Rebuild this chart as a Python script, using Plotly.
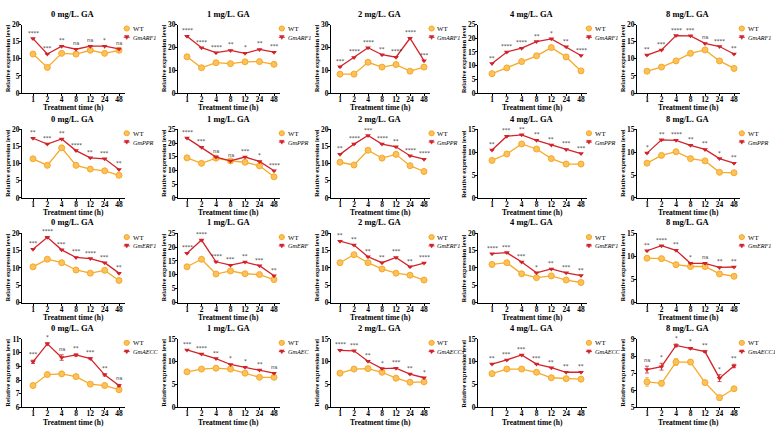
import plotly.graph_objects as go

# ---------------- data ----------------
times = ["1", "2", "4", "8", "12", "24", "48"]
doses = ["0 mg/L. GA", "1 mg/L. GA", "2 mg/L. GA", "4 mg/L. GA", "8 mg/L. GA"]

# GmARF1 row
arf1_wt = [[11.4, 7.5, 11.6, 11.4, 12.5, 11.6, 12.5],
           [15.9, 11.1, 13.3, 12.9, 13.7, 13.8, 12.6],
           [8.3, 8.3, 13.5, 11.4, 12.5, 9.6, 11.4],
           [7.1, 9.2, 11.5, 13.6, 16.6, 13.2, 8.1],
           [6.4, 7.6, 9.4, 11.6, 12.6, 9.4, 7.2]]
arf1_oe = [[15.9, 11.4, 13.7, 12.8, 13.7, 13.7, 12.9],
           [24.9, 19.9, 17.7, 18.7, 17.4, 19.1, 17.9],
           [11.5, 15.6, 19.9, 16.8, 15.7, 24.0, 14.2],
           [10.8, 15.0, 16.4, 18.8, 19.8, 16.9, 13.7],
           [11.1, 12.6, 16.8, 16.7, 14.5, 13.6, 11.4]]
arf1_sig = [["****", "***", "**", "ns", "ns", "*", "ns"],
            ["****", "****", "****", "**", "*", "**", "***"],
            ["***", "****", "****", "**", "****", "****", "***"],
            ["**", "****", "****", "**", "*", "**", "****"],
            ["**", "***", "****", "***", "ns", "****", "**"]]

# GmPPR row
ppr_wt = [[11.4, 9.5, 14.6, 9.5, 8.4, 7.9, 6.6],
          [14.6, 12.6, 14.5, 13.5, 13.0, 11.7, 7.7],
          [10.4, 9.6, 13.9, 11.6, 12.7, 9.4, 7.7],
          [8.2, 9.6, 11.8, 10.7, 8.6, 7.4, 7.4],
          [7.6, 9.3, 10.1, 8.6, 8.1, 5.6, 5.5]]
ppr_oe = [[17.4, 15.7, 17.2, 13.8, 11.7, 11.4, 8.3],
          [21.8, 18.5, 14.9, 13.5, 14.9, 13.3, 9.9],
          [12.7, 15.7, 18.2, 15.7, 14.9, 12.3, 11.3],
          [10.5, 13.5, 13.8, 12.6, 11.6, 10.6, 9.7],
          [9.8, 12.7, 12.6, 11.5, 10.6, 8.6, 7.6]]
ppr_sig = [["**", "***", "**", "****", "**", "***", "**"],
           ["****", "***", "ns", "ns", "***", "*", "****"],
           ["**", "****", "***", "****", "**", "****", "****"],
           ["**", "***", "**", "**", "**", "***", "***"],
           ["*", "**", "****", "**", "**", "*", "**"]]

# GmERF1 row
erf1_wt = [[10.3, 12.5, 11.5, 9.4, 8.5, 9.3, 6.4],
           [12.9, 15.6, 10.3, 11.4, 10.4, 10.1, 8.3],
           [11.5, 13.8, 11.5, 9.7, 8.5, 7.9, 6.5],
           [11.0, 11.5, 8.3, 7.2, 7.7, 6.5, 5.8],
           [9.6, 9.5, 8.2, 7.8, 7.8, 6.2, 5.7]]
erf1_oe = [[15.4, 18.8, 15.2, 13.0, 12.7, 11.5, 8.5],
           [17.8, 22.5, 14.7, 13.5, 14.6, 13.3, 9.7],
           [17.7, 16.6, 13.2, 11.5, 13.0, 10.3, 11.4],
           [14.1, 14.4, 11.7, 8.6, 9.7, 8.6, 7.8],
           [11.2, 12.3, 11.3, 8.5, 8.5, 7.6, 7.7]]
erf1_sig = [["***", "****", "***", "***", "****", "***", "**"],
            ["****", "****", "****", "***", "**", "***", "**"],
            ["**", "**", "**", "**", "***", "**", "****"],
            ["****", "***", "***", "*", "**", "***", "**"],
            ["**", "****", "**", "*", "ns", "**", "**"]]

# GmAECC1 row
aecc_wt = [[7.6, 8.4, 8.45, 8.25, 7.7, 7.6, 7.3],
           [7.8, 8.4, 8.6, 8.4, 7.5, 6.6, 6.6],
           [7.5, 8.4, 8.5, 7.7, 6.4, 5.5, 5.6],
           [7.4, 8.4, 8.4, 7.7, 6.5, 6.3, 6.2],
           [6.49, 6.41, 7.65, 7.65, 6.45, 5.57, 6.09]]
aecc_oe = [[9.33, 10.64, 9.64, 9.83, 9.57, 8.38, 7.6],
           [12.6, 11.7, 10.7, 9.4, 8.8, 8.2, 7.5],
           [12.5, 12.4, 10.1, 8.5, 8.6, 7.3, 6.5],
           [9.5, 10.4, 11.5, 9.5, 8.7, 7.7, 7.7],
           [7.21, 7.38, 8.62, 8.45, 8.26, 6.71, 7.42]]
aecc_wt_err = [[0.05, 0.12, 0.05, 0.05, 0.06, 0.05, 0.15],
               [0, 0, 0, 0, 0, 0, 0],
               [0, 0, 0, 0, 0, 0, 0],
               [0, 0, 0, 0, 0, 0, 0],
               [0.25, 0.15, 0.2, 0.1, 0.12, 0.15, 0.08]]
aecc_oe_err = [[0.12, 0.08, 0.2, 0.08, 0.05, 0.08, 0.08],
               [0, 0, 0, 0, 0, 0, 0],
               [0, 0, 0, 0, 0, 0, 0],
               [0, 0, 0, 0, 0, 0, 0],
               [0.2, 0.2, 0.08, 0.05, 0.05, 0.2, 0.1]]
aecc_sig = [["***", "*", "ns", "**", "***", "**", "ns"],
            ["***", "****", "**", "*", "*", "**", "ns"],
            ["****", "***", "**", "*", "***", "**", "*"],
            ["**", "***", "***", "***", "**", "**", "**"],
            ["ns", "*", "*", "*", "**", "*", "**"]]

gene_labels = [["GmARF1"] * 5,
               ["GmPPR"] * 5,
               ["GmERF1", "GmERF", "GmERF1", "GmERF1", "GmERF1"],
               ["GmAECC", "GmAEC", "GmAECC1", "GmAECC", "GmAECC1"]]

y_min = [[0, 0, 0, 0, 0], [0, 0, 0, 0, 0], [0, 0, 0, 0, 0], [6, 0, 0, 0, 5]]
y_max = [[20, 30, 30, 25, 20], [20, 25, 20, 15, 15], [20, 25, 20, 20, 15], [11, 15, 15, 15, 9]]
y_dtick = [[5, 10, 10, 5, 5], [5, 5, 5, 5, 5], [5, 5, 5, 5, 5], [1, 5, 5, 5, 1]]

# ---------------- layout geometry ----------------
W, H = 775, 434
col_left = [22, 178, 331, 478, 637]
col_x1 = [33, 187, 340, 492, 647]
col_x48 = [119, 274, 424, 581, 734]
row_top = [21, 128, 234, 342]
row_bot = [91, 198, 305, 412]

WT_COLOR = "#F7A928"
WT_FILL = "#FBC15A"
OE_COLOR = "#D2232A"
FONT = "Liberation Serif"


def px(x):
    return x / W


def py(y):
    return 1 - y / H


all_wt = [arf1_wt, ppr_wt, erf1_wt, aecc_wt]
all_oe = [arf1_oe, ppr_oe, erf1_oe, aecc_oe]
all_sig = [arf1_sig, ppr_sig, erf1_sig, aecc_sig]
zero_err = [[0] * 7 for _ in range(5)]
all_wt_err = [zero_err, zero_err, zero_err, aecc_wt_err]
all_oe_err = [zero_err, zero_err, zero_err, aecc_oe_err]

fig = go.Figure()
layout = dict(
    width=W, height=H,
    margin=dict(l=0, r=0, t=0, b=0),
    paper_bgcolor="white", plot_bgcolor="white",
    showlegend=False,
    font=dict(family=FONT, color="black"),
)
annotations = []
shapes = []

for r in range(4):
    for c in range(5):
        k = r * 5 + c + 1
        xs = "x" if k == 1 else f"x{k}"
        ys = "y" if k == 1 else f"y{k}"
        xkey = "xaxis" if k == 1 else f"xaxis{k}"
        ykey = "yaxis" if k == 1 else f"yaxis{k}"
        s = (col_x48[c] - col_x1[c]) / 6.0
        lo = -(col_x1[c] - col_left[c]) / s
        hi = 6.4
        right_px = col_x48[c] + 0.4 * s
        xd = [px(col_left[c]), px(right_px)]
        yd = [py(row_bot[r]), py(row_top[r])]

        layout[xkey] = dict(
            domain=xd, anchor=ys, type="category", range=[lo, hi],
            showline=True, linecolor="black", linewidth=1,
            ticks="outside", ticklen=2, tickwidth=1, tickcolor="black",
            ticklabelstandoff=-3,
            showgrid=False, zeroline=False,
            tickfont=dict(family=FONT, size=7.5, weight="bold", color="black"),
        )
        layout[ykey] = dict(
            domain=yd, anchor=xs, range=[y_min[r][c], y_max[r][c]],
            tick0=y_min[r][c], dtick=y_dtick[r][c],
            showline=True, linecolor="black", linewidth=1,
            ticks="outside", ticklen=2, tickwidth=1, tickcolor="black",
            ticklabelstandoff=-2,
            showgrid=False, zeroline=False,
            tickfont=dict(family=FONT, size=7.5, weight="bold", color="black"),
        )

        wt = all_wt[r][c]
        oe = all_oe[r][c]
        wte = all_wt_err[r][c]
        oee = all_oe_err[r][c]
        fig.add_trace(go.Scatter(
            x=times, y=wt, xaxis=xs, yaxis=ys, mode="lines+markers",
            line=dict(color=WT_COLOR, width=1.3),
            marker=dict(symbol="circle", size=6, color=WT_FILL,
                        line=dict(color=WT_COLOR, width=1)),
            error_y=dict(type="data", array=wte, visible=True,
                         color=WT_COLOR, thickness=0.8, width=2),
        ))
        fig.add_trace(go.Scatter(
            x=times, y=oe, xaxis=xs, yaxis=ys, mode="lines+markers",
            line=dict(color=OE_COLOR, width=1.3),
            marker=dict(symbol="triangle-down", size=5, color=OE_COLOR),
            error_y=dict(type="data", array=oee, visible=True,
                         color=OE_COLOR, thickness=0.8, width=2),
        ))

        # significance labels (x given as category index)
        for i in range(len(times)):
            top = max(oe[i] + oee[i], wt[i] + wte[i])
            annotations.append(dict(
                x=i, y=top, xref=xs, yref=ys, text=all_sig[r][c][i],
                showarrow=False, yanchor="bottom", yshift=1,
                font=dict(family="DejaVu Sans", size=5.5, color="#333333"),
            ))

        # panel title
        annotations.append(dict(
            x=(xd[0] + xd[1]) / 2, y=py(row_top[r] - 11),
            xref="paper", yref="paper", text=doses[c], showarrow=False,
            xanchor="center", yanchor="middle",
            font=dict(family=FONT, size=8.5, weight="bold", color="black"),
        ))
        # axis titles
        annotations.append(dict(
            x=(xd[0] + xd[1]) / 2, y=py(row_bot[r] + 15),
            xref="paper", yref="paper", text="Treatment time (h)", showarrow=False,
            xanchor="center", yanchor="middle",
            font=dict(family=FONT, size=7.5, weight="bold", color="black"),
        ))
        annotations.append(dict(
            x=px(col_left[c] - 14.5), y=(yd[0] + yd[1]) / 2,
            xref="paper", yref="paper", text="Relative expression level",
            showarrow=False, textangle=-90,
            xanchor="center", yanchor="middle",
            font=dict(family=FONT, size=6.5, weight="bold", color="black"),
        ))

        # legend entries (marker shapes + text)
        mx = right_px + 2.0
        wy = row_top[r] + 4
        oy = row_top[r] + 13
        shapes.append(dict(type="line", xref="paper", yref="paper",
                           x0=px(mx - 3.0), x1=px(mx + 3.0), y0=py(wy), y1=py(wy),
                           line=dict(color=WT_COLOR, width=1)))
        shapes.append(dict(type="circle", xref="paper", yref="paper",
                           x0=px(mx - 2.6), x1=px(mx + 2.6), y0=py(wy + 2.6), y1=py(wy - 2.6),
                           fillcolor=WT_FILL, line=dict(color=WT_COLOR, width=1)))
        shapes.append(dict(type="line", xref="paper", yref="paper",
                           x0=px(mx - 3.0), x1=px(mx + 3.0), y0=py(oy), y1=py(oy),
                           line=dict(color=OE_COLOR, width=1)))
        tri = (f"M {px(mx - 2.3)},{py(oy - 1.8)} L {px(mx + 2.3)},{py(oy - 1.8)} "
               f"L {px(mx)},{py(oy + 2.2)} Z")
        shapes.append(dict(type="path", xref="paper", yref="paper", path=tri,
                           fillcolor=OE_COLOR, line=dict(color=OE_COLOR, width=0.5)))
        annotations.append(dict(
            x=px(mx + 3.8), y=py(wy), xref="paper", yref="paper",
            text="WT", showarrow=False, xanchor="left", yanchor="middle",
            font=dict(family=FONT, size=6.8, color="black"),
        ))
        annotations.append(dict(
            x=px(mx + 3.8), y=py(oy), xref="paper", yref="paper",
            text=f"<i>{gene_labels[r][c]}</i>", showarrow=False,
            xanchor="left", yanchor="middle",
            font=dict(family=FONT, size=6.2, color="black"),
        ))

layout["annotations"] = annotations
layout["shapes"] = shapes
fig.update_layout(**layout)
fig.write_html("out.html")
